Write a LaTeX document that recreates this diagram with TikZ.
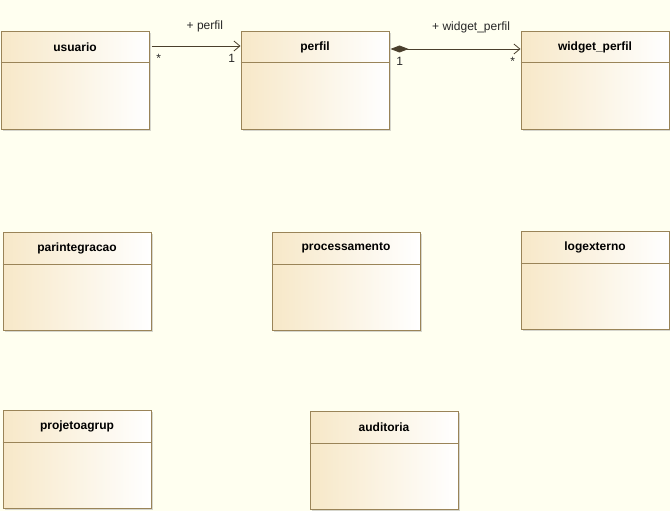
\documentclass[tikz,border=0pt]{standalone}
\usepackage{fontspec}
\setmainfont{Liberation Sans}
\usetikzlibrary{arrows.meta,positioning,shadows}
\definecolor{umlbg}{HTML}{FFFFF0}
\definecolor{umlfill}{HTML}{F7E8C8}
\definecolor{umledge}{HTML}{9A8458}
\definecolor{umlline}{HTML}{4A3F2C}
\tikzset{
  umlclass/.style={draw=umledge, line width=1pt, left color=umlfill, right color=white,
    minimum width=148pt, minimum height=98pt, anchor=north west, inner sep=0pt,
    drop shadow={shadow xshift=1.5pt, shadow yshift=-1.5pt, fill=black!40, opacity=0.4}},
  umltitle/.style={anchor=north, minimum height=32pt, inner sep=0pt,
    font=\fontsize{12}{14}\selectfont\bfseries},
  assoc/.style={draw=umlline, line width=0.8pt},
  mult/.style={anchor=base, inner sep=0pt, font=\fontsize{12}{14}\selectfont, text=black!85}
}
\begin{document}
\begin{tikzpicture}[x=1pt,y=-1pt]
\fill[umlbg] (0,0) rectangle (670,511);
\useasboundingbox (0,0) rectangle (670,511);

\foreach \n/\t/\x/\y in {usuario/usuario/0.5/31, perfil/perfil/240.5/31,
  widget_perfil/widget\_perfil/520.5/31, parintegracao/parintegracao/2.5/232,
  processamento/processamento/271.5/232, logexterno/logexterno/520.5/231,
  projetoagrup/projetoagrup/2.5/410, auditoria/auditoria/309.5/411}{
  \node[umlclass] (\n) at (\x,\y) {};
  \node[umltitle] (\n-title) at (\n.north) {\t};
  \draw[umledge, line width=1pt] ([yshift=-32pt]\n.north west) -- ([yshift=-32pt]\n.north east);
}

% associations
\draw[assoc, -{Straight Barb[length=6pt,width=10pt]}]
  ([xshift=2pt,yshift=-15pt]usuario.north east) -- ([yshift=-15pt]perfil.north west)
  node[mult, pos=0.6, yshift=16.5pt] {+ perfil}
  node[mult, pos=0.08, yshift=-17pt] {*}
  node[mult, pos=0.9, yshift=-17pt] {1};
\draw[assoc, {Diamond[length=18pt,width=7pt]}-{Straight Barb[length=6pt,width=10pt]}]
  ([xshift=1pt,yshift=-18pt]perfil.north east) -- ([yshift=-18pt]widget_perfil.north west)
  node[mult, pos=0.07, yshift=-17pt] {1}
  node[mult, pos=0.62, yshift=18pt] {+ widget\_perfil}
  node[mult, pos=0.94, yshift=-17pt] {*};
\end{tikzpicture}
\end{document}
